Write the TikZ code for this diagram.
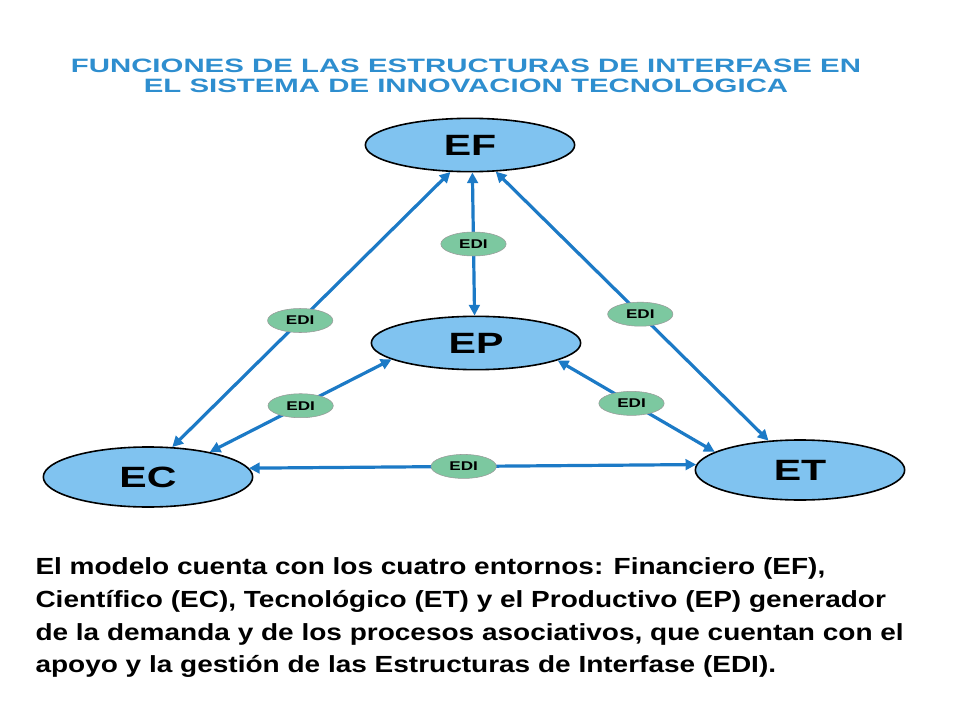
\documentclass[tikz,border=0pt]{standalone}
\usepackage{fontspec}
\setmainfont{Liberation Sans}
\usetikzlibrary{shapes.geometric,arrows.meta}
\definecolor{entblue}{HTML}{80C3F0}
\definecolor{arrblue}{HTML}{1C7AC6}
\definecolor{edigreen}{HTML}{7CC8A0}
\definecolor{titblue}{HTML}{2E8ECF}
\tikzset{every picture/.style={line width=0.75pt}}
\tikzset{
	entorno/.style={ellipse,draw=black,line width=1.2pt,fill=entblue,inner sep=0pt,minimum width=157pt,minimum height=40pt,font=\fontsize{22}{22}\selectfont\bfseries},
	edi/.style={ellipse,draw=black!40,line width=0.4pt,fill=edigreen,inner sep=0pt,minimum width=49pt,minimum height=18pt,font=\fontsize{9.5}{9.5}\selectfont\bfseries},
	conector/.style={draw=arrblue,line width=2.4pt,{Triangle[length=8pt,width=8pt]}-{Triangle[length=8pt,width=8pt]}}}

\begin{document}
\begin{tikzpicture}[x=0.75pt,y=0.75pt,yscale=-1,xscale=1]
	\useasboundingbox (0,0) rectangle (960,720);

	% Titulo
	\node (tit1) at (466,66) [text=titblue,font=\fontsize{14.5}{14.5}\selectfont\bfseries] {\scalebox{1.52}[1]{FUNCIONES DE LAS ESTRUCTURAS DE INTERFASE EN}};
	\node (tit2) at (466,86) [text=titblue,font=\fontsize{14.5}{14.5}\selectfont\bfseries] {\scalebox{1.52}[1]{EL SISTEMA DE INNOVACION TECNOLOGICA}};

	% Entornos
	\node[entorno] (ef) at (470,145) {\scalebox{1.4}[1]{EF}};
	\node[entorno] (ep) at (476,343) {\scalebox{1.4}[1]{EP}};
	\node[entorno,minimum height=45pt] (ec) at (148,477) {\scalebox{1.4}[1]{EC}};
	\node[entorno,minimum height=45pt] (et) at (800,470) {\scalebox{1.4}[1]{ET}};

	% Conectores con EDI
	\draw[conector] (ef.-85) -- node[edi,pos=0.5] (edi1) {\scalebox{1.35}[1]{EDI}} (ep.93);
	\draw[conector] (ef.-126) -- node[edi,pos=0.54] (edi2) {\scalebox{1.35}[1]{EDI}} (ec.51);
	\draw[conector] (ef.-46) -- node[edi,pos=0.53] (edi3) {\scalebox{1.35}[1]{EDI}} (et.137);
	\draw[conector] (ep.-169) -- node[edi,pos=0.5] (edi4) {\scalebox{1.35}[1]{EDI}} (ec.22);
	\draw[conector] (ep.-12) -- node[edi,pos=0.47] (edi5) {\scalebox{1.35}[1]{EDI}} (et.168);
	\draw[conector] (ec.5) -- node[edi,pos=0.48] (edi6) {\scalebox{1.35}[1]{EDI}} (et.177);

	% Texto
	\node (txt) at (35,617) [anchor=west,inner sep=0pt,font=\fontsize{17.5}{24.7}\selectfont\bfseries] {\scalebox{1.2}[1]{\begin{tabular}{@{}l@{}}El modelo cuenta con los cuatro entornos: Financiero (EF),\\Científico (EC), Tecnológico (ET) y el Productivo (EP) generador\\de la demanda  y de los procesos asociativos,  que cuentan con el\\apoyo y la gestión de las Estructuras  de Interfase (EDI).\end{tabular}}};
\end{tikzpicture}
\end{document}
